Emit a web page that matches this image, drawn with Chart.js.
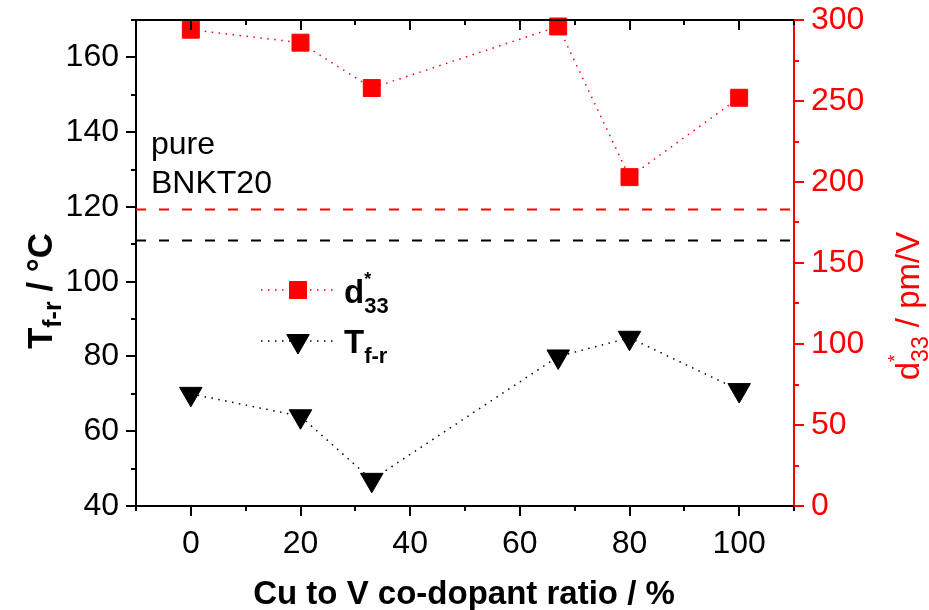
<!DOCTYPE html>
<html>
<head>
<meta charset="utf-8">
<script src="https://cdn.jsdelivr.net/npm/chart.js@4.4.0/dist/chart.umd.min.js"></script>
<style>
  html, body { margin: 0; padding: 0; background: #fff; }
  canvas { display: block; }
</style>
</head>
<body>
<canvas id="chart" width="929" height="610"></canvas>
<script>
// Cu/V co-dopant ratio (%) and the two measured quantities
const ratio = [0, 20, 33, 67, 80, 100];
const d33 = [294, 286, 258, 296, 203, 252];   // pm/V, right axis
const tfr = [70, 64, 47, 80, 85, 71];          // °C, left axis

// reference values for undoped BNKT20
const pureD33 = 183;
const pureTfr = 111;

const xRange = [-10, 110];
const tfrRange = [40, 170];
const d33Range = [0, 300];

const FONT = "'Liberation Sans', Arial, sans-serif";
const RED = '#ff0000';

function pts(xs, ys) {
  return xs.map((x, i) => ({ x: x, y: ys[i] }));
}

// draws a run of text pieces (sub/superscripts) along a baseline
function drawRich(ctx, parts, cx, base, angle, color, align) {
  ctx.save();
  ctx.translate(cx, base);
  if (angle) ctx.rotate(angle);
  ctx.fillStyle = color;
  ctx.textBaseline = 'alphabetic';
  ctx.textAlign = 'left';
  let total = 0;
  parts.forEach((p) => {
    ctx.font = (p.bold ? 'bold ' : '') + p.size + 'px ' + FONT;
    p.w = ctx.measureText(p.text).width;
    if (p.advance !== false) total += p.w;
  });
  let x = align === 'left' ? 0 : -total / 2;
  parts.forEach((p) => {
    ctx.font = (p.bold ? 'bold ' : '') + p.size + 'px ' + FONT;
    ctx.fillText(p.text, x, p.dy || 0);
    if (p.advance !== false) x += p.w;
  });
  ctx.restore();
}

// major/minor tick marks on all four sides
const tickMarks = {
  id: 'tickMarks',
  afterDraw(chart) {
    const ctx = chart.ctx;
    const a = chart.chartArea;
    const sx = chart.scales.x, sy = chart.scales.y, sy2 = chart.scales.y2;
    ctx.save();
    ctx.lineWidth = 2;

    // top frame line
    ctx.strokeStyle = '#000';
    ctx.beginPath();
    ctx.moveTo(a.left - 1, a.top);
    ctx.lineTo(a.right, a.top);
    ctx.stroke();

    ctx.beginPath();
    for (let v = xRange[0]; v <= xRange[1]; v += 10) {
      const px = Math.round(sx.getPixelForValue(v));
      const len = v % 20 === 0 ? 10 : 5;
      ctx.moveTo(px, a.bottom);
      ctx.lineTo(px, a.bottom + len);
      ctx.moveTo(px, a.top);
      ctx.lineTo(px, a.top + len);
    }
    for (let v = tfrRange[0]; v <= tfrRange[1]; v += 10) {
      const py = Math.round(sy.getPixelForValue(v));
      const len = v % 20 === 0 ? 10 : 5;
      ctx.moveTo(a.left, py);
      ctx.lineTo(a.left - len, py);
    }
    ctx.stroke();

    ctx.strokeStyle = RED;
    ctx.beginPath();
    for (let v = d33Range[0]; v <= d33Range[1]; v += 25) {
      const py = Math.round(sy2.getPixelForValue(v));
      const len = v % 50 === 0 ? 10 : 5;
      ctx.moveTo(a.right, py);
      ctx.lineTo(a.right + len, py);
    }
    ctx.stroke();
    ctx.restore();
  }
};

// axis titles, note and legend
const annotations = {
  id: 'annotations',
  afterDraw(chart) {
    const ctx = chart.ctx;

    drawRich(ctx, [
      { text: 'Cu to V co-dopant ratio / %', size: 33, bold: true }
    ], 464, 604, 0, '#000');

    drawRich(ctx, [
      { text: 'T', size: 35, bold: true },
      { text: 'f-r', size: 25, bold: true, dy: 9 },
      { text: ' / °C', size: 35, bold: true }
    ], 52, 291, -Math.PI / 2, '#000');

    drawRich(ctx, [
      { text: 'd', size: 33 },
      { text: '*', size: 19, dy: -18, advance: false },
      { text: '33', size: 23, dy: 9 },
      { text: ' / pm/V', size: 33 }
    ], 919, 306, -Math.PI / 2, RED);

    drawRich(ctx, [{ text: 'pure', size: 32 }], 151, 154, 0, '#000', 'left');
    drawRich(ctx, [{ text: 'BNKT20', size: 32 }], 151, 193, 0, '#000', 'left');

    // legend
    const lx0 = 261, lx1 = 335, mx = 298;
    const rows = [
      { y: 290, color: RED, style: 'rect', radius: 12, rotation: 0 },
      { y: 341, color: '#000', style: 'triangle', radius: 13, rotation: 180 }
    ];
    rows.forEach((r) => {
      ctx.save();
      ctx.strokeStyle = r.color;
      ctx.lineWidth = 1.5;
      ctx.setLineDash([1.5, 5.5]);
      ctx.beginPath();
      ctx.moveTo(lx0, r.y);
      ctx.lineTo(lx1, r.y);
      ctx.stroke();
      ctx.setLineDash([]);
      ctx.fillStyle = r.color;
      ctx.lineWidth = 1;
      Chart.helpers.drawPoint(ctx, {
        pointStyle: r.style, radius: r.radius, rotation: r.rotation, borderWidth: 1
      }, mx, r.y);
      ctx.restore();
    });
    drawRich(ctx, [
      { text: 'd', size: 33, bold: true },
      { text: '*', size: 18, bold: true, dy: -18, advance: false },
      { text: '33', size: 22, bold: true, dy: 10 }
    ], 344, 303, 0, '#000', 'left');
    drawRich(ctx, [
      { text: 'T', size: 33, bold: true },
      { text: 'f-r', size: 22, bold: true, dy: 10 }
    ], 344, 353, 0, '#000', 'left');
  }
};

const tickFont = { family: FONT, size: 32 };

// fixed axis sizes so the plot area sits at a set place
function fixVertical(width) {
  return (scale) => {
    scale.width = width;
    scale.paddingTop = 0;
    scale.paddingBottom = 0;
  };
}

new Chart(document.getElementById('chart'), {
  type: 'scatter',
  data: {
    datasets: [
      {
        label: 'd33',
        data: pts(ratio, d33),
        yAxisID: 'y2',
        showLine: true,
        borderColor: RED,
        borderWidth: 1.5,
        borderDash: [1.5, 5.5],
        pointStyle: 'rect',
        pointRadius: 12,
        pointBorderWidth: 1,
        pointBackgroundColor: RED,
        pointBorderColor: RED,
        clip: false
      },
      {
        label: 'Tf-r',
        data: pts(ratio, tfr),
        yAxisID: 'y',
        showLine: true,
        borderColor: '#000',
        borderWidth: 1.5,
        borderDash: [1.5, 5.5],
        pointStyle: 'triangle',
        pointRotation: 180,
        pointRadius: 13,
        pointBorderWidth: 1,
        pointBackgroundColor: '#000',
        pointBorderColor: '#000'
      },
      {
        label: 'pure d33',
        data: pts(xRange, [pureD33, pureD33]),
        yAxisID: 'y2',
        showLine: true,
        borderColor: RED,
        borderWidth: 2,
        borderDash: [10, 13],
        pointRadius: 0
      },
      {
        label: 'pure Tf-r',
        data: pts(xRange, [pureTfr, pureTfr]),
        yAxisID: 'y',
        showLine: true,
        borderColor: '#000',
        borderWidth: 2,
        borderDash: [10, 13],
        pointRadius: 0
      }
    ]
  },
  options: {
    responsive: false,
    animation: false,
    layout: { padding: { top: 20 } },
    plugins: {
      legend: { display: false },
      tooltip: { enabled: false }
    },
    scales: {
      x: {
        type: 'linear',
        min: xRange[0],
        max: xRange[1],
        grid: { display: false },
        border: { color: '#000', width: 2 },
        ticks: {
          stepSize: 10,
          padding: 11,
          color: '#000',
          font: tickFont,
          maxRotation: 0,
          autoSkip: false,
          callback: (v) => (v % 20 === 0 && v >= 0 && v <= 100 ? v : '')
        },
        afterFit(scale) {
          scale.height = 104;
          scale.paddingLeft = 0;
          scale.paddingRight = 0;
        }
      },
      y: {
        position: 'left',
        min: tfrRange[0],
        max: tfrRange[1],
        grid: { display: false },
        border: { color: '#000', width: 2 },
        ticks: {
          stepSize: 10,
          padding: 9,
          color: '#000',
          font: tickFont,
          autoSkip: false,
          callback: (v) => (v % 20 === 0 ? v : '')
        },
        afterFit: fixVertical(136)
      },
      y2: {
        position: 'right',
        min: d33Range[0],
        max: d33Range[1],
        grid: { display: false },
        border: { color: RED, width: 2 },
        ticks: {
          stepSize: 25,
          padding: 9,
          color: RED,
          font: tickFont,
          autoSkip: false,
          callback: (v) => (v % 50 === 0 ? v : '')
        },
        afterFit: fixVertical(135)
      }
    }
  },
  plugins: [tickMarks, annotations]
});
</script>
</body>
</html>
